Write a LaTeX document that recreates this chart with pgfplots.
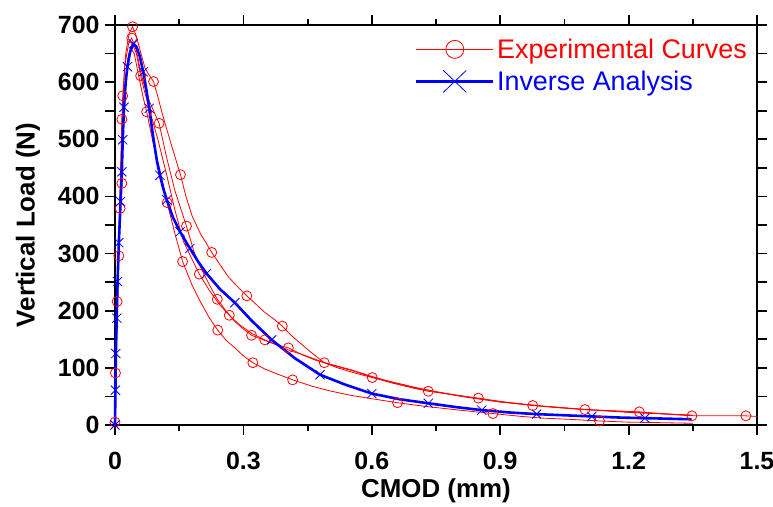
\documentclass[border=0pt]{standalone}
\usepackage{pgfplots}
\pgfplotsset{compat=1.18}
\usepackage{fontspec}
\setmainfont{Liberation Sans}
\usetikzlibrary{calc}
\begin{document}
\begin{tikzpicture}
\begin{axis}[
  scale only axis, width=642bp, height=400bp,
  xmin=0, xmax=1.5, ymin=0, ymax=700,
  axis line style={line width=1.8bp},
  every tick/.style={black, line width=1.8bp},
  tick align=outside,
  major tick length=10bp, minor tick length=6bp,
  xtick={0,0.3,0.6,0.9,1.2,1.5},
  xticklabels={0,0.3,0.6,0.9,1.2,1.5},
  minor xtick={0.15,0.45,0.75,1.05,1.35},
  ytick={0,50,100,150,200,250,300,350,400,450,500,550,600,650,700},
  yticklabels={0,,100,,200,,300,,400,,500,,600,,700},
  ticklabel style={font=\bfseries\fontsize{25}{30}\selectfont},
  xticklabel style={yshift=-14bp},
  yticklabel style={xshift=-2bp},
  xlabel={CMOD (mm)}, ylabel={Vertical Load (N)},
  label style={font=\bfseries\fontsize{26}{31}\selectfont},
  xlabel style={yshift=-2bp},
  ylabel style={yshift=11bp},
  legend style={at={(0.467,0.972)}, anchor=north west, draw=none, fill=none,
    inner sep=0pt, font=\fontsize{27}{32}\selectfont, row sep=6bp,
    nodes={inner sep=2.5bp}},
  legend cell align=left,
  clip=false,
]
% Curve A
\addplot[red, line width=0.8bp, forget plot] coordinates {
(0,0)(0.002,90)(0.005,216)(0.009,330)(0.013,440)(0.018,576)(0.025,650)(0.033,685)(0.041,697)(0.05,680)(0.06,652)(0.07,625)(0.08,612)(0.09,601)(0.1,575)(0.11,546)(0.12,520)(0.135,482)(0.153,438)(0.165,402)(0.18,366)(0.2,334)(0.215,316)(0.226,302)(0.245,281)(0.265,259)(0.285,243)(0.308,226)(0.33,211)(0.35,197)(0.37,186)(0.391,173)(0.41,158)(0.43,145)(0.46,126)(0.489,109)(0.52,100)(0.56,91)(0.601,83)(0.65,73)(0.7,64)(0.732,59)(0.79,53)(0.849,47)(0.91,40)(0.976,34)(1.04,30)(1.098,27)(1.16,25)(1.225,23)(1.29,19)(1.348,16)(1.41,16)(1.474,16)(1.5,15)};
\addplot[red, only marks, mark=o, mark size=5bp, mark options={line width=0.8bp}, forget plot] coordinates {
(0,5)(0.005,216)(0.018,576)(0.041,697)(0.09,601)(0.153,438)(0.226,302)(0.308,226)(0.391,173)(0.489,109)(0.601,83)(0.732,59)(0.849,47)(0.976,34)(1.098,27)(1.225,23)(1.348,16)(1.474,16)};
% Curve B1
\addplot[red, line width=0.8bp, forget plot] coordinates {
(0,0)(0.002,91)(0.006,250)(0.012,400)(0.016,535)(0.023,630)(0.032,668)(0.039,677)(0.05,655)(0.062,612)(0.075,576)(0.09,550)(0.103,528)(0.12,470)(0.14,410)(0.167,348)(0.185,302)(0.2,276)(0.22,246)(0.239,220)(0.26,199)(0.28,181)(0.3,168)(0.319,157)(0.35,148)(0.38,140)(0.405,135)(0.44,122)(0.47,113)(0.5,107)(0.55,97)(0.6,85)(0.65,74)(0.7,65)(0.75,58)(0.8,52)(0.85,46)(0.9,41)(0.95,37)(1.0,33)(1.1,27)(1.2,23)(1.3,19)(1.35,17)};
\addplot[red, only marks, mark=o, mark size=5bp, mark options={line width=0.8bp}, forget plot] coordinates {
(0.016,535)(0.039,677)(0.103,528)(0.167,348)(0.239,220)(0.319,157)(0.405,135)};
% Curve B2
\addplot[red, line width=0.8bp, forget plot] coordinates {
(0,0)(0.003,120)(0.009,296)(0.013,420)(0.02,560)(0.03,640)(0.04,668)(0.05,650)(0.06,611)(0.07,581)(0.085,540)(0.1,500)(0.12,440)(0.14,376)(0.16,321)(0.18,290)(0.197,264)(0.22,236)(0.245,210)(0.267,192)(0.29,176)(0.32,160)(0.35,149)(0.38,139)(0.41,130)(0.45,120)(0.5,106)(0.55,96)(0.6,84)(0.7,66)(0.8,51)(0.9,40)(1.0,33)(1.1,27)(1.2,22)(1.35,17)};
\addplot[red, only marks, mark=o, mark size=5bp, mark options={line width=0.8bp}, forget plot] coordinates {
(0.009,296)(0.06,611)(0.197,264)(0.267,192)(0.35,149)};
% Curve C
\addplot[red, line width=0.8bp, forget plot] coordinates {
(0,0)(0.001,91)(0.003,140)(0.007,270)(0.012,379)(0.016,423)(0.02,520)(0.025,600)(0.03,640)(0.036,660)(0.045,650)(0.055,612)(0.065,576)(0.074,548)(0.09,490)(0.105,446)(0.122,389)(0.14,335)(0.158,286)(0.18,245)(0.2,215)(0.22,188)(0.24,166)(0.26,148)(0.28,135)(0.3,121)(0.322,109)(0.35,98)(0.38,89)(0.415,79)(0.46,68)(0.5,60)(0.55,52)(0.6,46)(0.66,39)(0.72,33)(0.78,28)(0.83,24)(0.883,20)(0.95,15)(1.0,12)(1.06,10)(1.132,7)(1.2,5)(1.28,4)(1.35,3)};
\addplot[red, only marks, mark=o, mark size=5bp, mark options={line width=0.8bp}, forget plot] coordinates {
(0.001,91)(0.012,379)(0.016,423)(0.074,548)(0.122,389)(0.158,286)(0.24,166)(0.322,109)(0.415,79)(0.66,39)(0.883,20)(1.132,7)};
% Inverse analysis
\addplot[blue, line width=2.6bp, forget plot] coordinates {
(0,0)(0.001,61)(0.002,125)(0.004,187)(0.006,251)(0.009,319)(0.013,391)(0.016,443)(0.018,499)(0.021,556)(0.025,600)(0.029,627)(0.035,652)(0.043,667)(0.05,662)(0.058,645)(0.066,618)(0.073,588)(0.080,554)(0.09,500)(0.098,462)(0.105,437)(0.113,413)(0.121,394)(0.135,364)(0.152,338)(0.175,309)(0.195,285)(0.214,265)(0.245,238)(0.280,214)(0.32,182)(0.366,149)(0.42,117)(0.479,88)(0.54,70)(0.600,55)(0.665,45)(0.732,38)(0.8,31)(0.857,26)(0.92,22)(0.985,19)(1.05,17)(1.114,15)(1.18,13)(1.238,12)(1.347,10)};
\addplot[blue, only marks, mark=x, mark size=6.5bp, mark options={line width=0.8bp}, forget plot] coordinates {
(0,0)(0.001,61)(0.002,125)(0.004,187)(0.006,251)(0.009,319)(0.013,391)(0.016,443)(0.018,499)(0.021,556)(0.029,627)(0.043,667)(0.066,618)(0.080,554)(0.105,437)(0.121,394)(0.152,338)(0.175,309)(0.214,265)(0.280,214)(0.366,149)(0.479,88)(0.600,55)(0.732,38)(0.857,26)(0.985,19)(1.114,15)(1.238,12)};
\addlegendimage{legend image code/.code={\draw[red, line width=0.8bp] (0bp,0bp) -- (77bp,0bp); \draw[red, line width=0.8bp] (38.5bp,0bp) circle (9bp);}}
\addlegendentry{\textcolor{red}{Experimental Curves}}
\addlegendimage{legend image code/.code={\draw[blue, line width=2.6bp] (0bp,0bp) -- (77bp,0bp); \draw[blue, line width=0.8bp] (27bp,-11bp) -- (50bp,11bp) (27bp,11bp) -- (50bp,-11bp);}}
\addlegendentry{\textcolor{blue}{Inverse Analysis}}
\end{axis}
\pgfresetboundingbox
\useasboundingbox ($(current axis.south west)+(-115bp,-82bp)$) rectangle ($(current axis.north east)+(16bp,25bp)$);
\end{tikzpicture}
\end{document}
